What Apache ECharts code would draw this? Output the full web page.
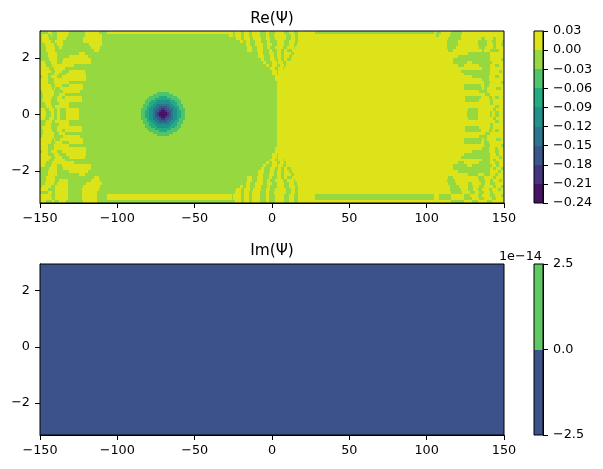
<!DOCTYPE html>
<html>
<head>
<meta charset="UTF-8">
<script src="https://cdn.jsdelivr.net/npm/echarts@6/dist/echarts.min.js"></script>
<style>
  html, body { margin: 0; height: 100%; background: #fff; }
  #paint { width: 603px; height: 469px; }
</style>
</head>
<body>
<div id="paint"></div>
<script>
// contour levels and fill colours of both panels
var reLevels = [-0.24, -0.21, -0.18, -0.15, -0.12, -0.09, -0.06, -0.03, 0, 0.03];
var reColors = ['#471365', '#453581', '#38588c', '#2a768e', '#21918c', '#25ab82', '#4fc46a', '#95d840', '#dce319'];
var imLevels = [-2.5, 0, 2.5];
var imColors = ['#3b528b', '#5ec962'];

var xTicks = [-150, -100, -50, 0, 50, 100, 150];
var yTicks = [-2, 0, 2];
var yRange = [-3.14, 2.95];

// Re(Psi): x intervals of each row (top to bottom) that fall in the 0.00..0.03 band,
// everything else is the -0.03..0.00 band
var reUpperSpans = [
  [-145,-142, -139,-131, -121,-112, -107,-25, -24,-20, -18,-15, -13,-8, -4,-2, 2,8, 11,14, 17,28, 105,106, 109,116, 123,150],
  [-149,-145, -143,-142, -139,-132, -121,-110, -28,-25, -24,-20, -18,-15, -13,-8, -4,-2, 1,9, 12,15, 17,106, 108,115, 122,150],
  [-149,-144, -139,-133, -122,-110, -23,-20, -18,-14, -12,-7, -4,-1, 2,9, 12,15, 17,114, 122,135, 138,143, 145,150],
  [-149,-143, -140,-135, -122,-110, -21,-19, -17,-14, -11,-7, -3,-1, 3,8, 11,15, 17,113, 120,133, 139,142, 145,149],
  [-147,-141, -139,-135, -118,-110, -17,-14, -11,-6, -3,0, 3,8, 11,14, 16,113, 120,133, 139,143, 145,148],
  [-146,-140, -138,-136, -117,-111, -16,-13, -10,-6, -3,-1, 2,7, 10,14, 15,113, 119,134, 138,143, 145,150],
  [-146,-140, -115,-112, -16,-13, -10,-6, -2,0, 3,6, 8,10, 13,114, 117,136, 137,141, 147,150],
  [-145,-139, -125,-121, -9,-6, -2,1, 3,6, 8,12, 14,127, 141,150],
  [-145,-139, -131,-119, -9,-5, -1,1, 3,6, 8,11, 13,120, 141,150],
  [-144,-139, -135,-117, -7,-5, -1,2, 4,6, 8,10, 12,117, 141,148],
  [-150,-147, -143,-139, -136,-117, -6,-4, 0,3, 4,7, 9,117, 126,129, 142,150],
  [-150,-146, -142,-128, -4,-2, 0,3, 5,8, 9,120, 124,134, 141,144, 147,150],
  [-150,-144, -141,-134, -1,2, 4,7, 8,136, 141,150],
  [-150,-143, -140,-136, -131,-121, 0,3, 4,122, 141,147, 149,150],
  [-150,-145, -141,-138, -133,-120, 0,3, 4,124, 141,150],
  [-149,-145, -143,-139, -136,-120, 2,129, 140,144, 147,150],
  [-150,-145, -141,-120, 2,136, 140,150],
  [-150,-145, -141,-131, 3,137, 141,148],
  [-150,-143, -140,-136, -131,-122, 3,124, 135,137, 140,150],
  [-150,-142, -141,-140, -137,-122, 3,124, 136,137, 139,145, 148,150],
  [-149,-141, -135,-124, 3,134, 139,150],
  [-148,-141, -138,-134, 3,138, 141,150],
  [-148,-142, -139,-136, -134,-123, 3,125, 135,140, 142,144, 147,150],
  [-149,-143, -139,-123, 3,125, 134,141, 143,150],
  [-147,-143, -138,-131, 3,141, 143,150],
  [-146,-142, -140,-131, 3,144, 147,150],
  [-150,-147, -144,-141, -139,-137, -133,-125, 3,127, 133,143, 145,150],
  [-150,-146, -143,-141, -139,-137, -133,-125, 3,126, 133,141, 142,144, 147,150]
];
var reLowerSpans = [
  [-150,-146, -143,-141, -139,-137, -133,-125, 3,126, 133,141, 142,144, 147,150],
  [-150,-147, -144,-141, -139,-137, -133,-125, 3,127, 133,143, 145,150],
  [-146,-142, -140,-131, 3,144, 147,150],
  [-147,-143, -138,-131, 3,141, 143,150],
  [-149,-143, -139,-123, 3,125, 134,141, 143,150],
  [-148,-142, -139,-136, -134,-123, 3,125, 135,140, 142,144, 147,150],
  [-148,-141, -138,-134, 3,138, 141,150],
  [-149,-141, -135,-124, 3,134, 139,150],
  [-150,-142, -141,-140, -137,-122, 3,124, 136,137, 139,145, 148,150],
  [-150,-143, -140,-136, -131,-122, 3,124, 135,137, 140,150],
  [-150,-145, -141,-131, 3,137, 141,148],
  [-150,-145, -141,-120, 2,136, 140,144, 146,150],
  [-149,-145, -143,-139, -136,-120, 2,129, 140,144, 147,150],
  [-150,-145, -141,-138, -133,-120, 0,3, 4,124, 141,145, 147,150],
  [-150,-143, -140,-136, -131,-121, 0,3, 4,122, 141,147, 149,150],
  [-150,-144, -141,-134, -1,2, 4,7, 8,136, 141,143, 145,150],
  [-150,-146, -142,-128, -4,-2, 0,3, 5,8, 9,120, 124,134, 141,144, 147,150],
  [-150,-147, -143,-139, -136,-117, -6,-4, 0,3, 4,7, 9,117, 126,129, 142,145, 147,150],
  [-144,-139, -135,-117, -7,-5, -1,2, 4,6, 8,10, 12,117, 141,143, 145,148],
  [-145,-139, -131,-119, -9,-5, -1,1, 3,6, 8,11, 13,120, 141,146, 148,150],
  [-145,-139, -125,-121, -9,-6, -2,1, 3,6, 8,12, 14,127, 133,137, 141,144, 146,150],
  [-146,-140, -115,-112, -16,-13, -10,-6, -2,0, 3,6, 8,10, 13,114, 117,133, 137,143, 145,150],
  [-146,-140, -138,-132, -117,-111, -16,-13, -10,-6, -3,-1, 2,7, 10,14, 15,113, 118,134, 138,141, 143,147, 149,150],
  [-147,-141, -139,-132, -120,-110, -17,-14, -11,-6, -3,0, 3,8, 11,14, 16,114, 119,127, 129,135, 138,141, 144,150],
  [-149,-143, -140,-132, -122,-111, -21,-19, -17,-14, -11,-7, -3,-1, 3,8, 11,15, 17,115, 121,127, 130,134, 137,143, 145,148],
  [-150,-145, -140,-132, -123,-112, -23,-20, -18,-14, -12,-7, -4,-1, 2,9, 12,15, 17,115, 122,127, 130,133, 136,140, 142,146, 148,150],
  [-145,-142, -140,-132, -123,-113, -24,-20, -18,-15, -13,-8, -4,-2, 1,9, 12,15, 17,116, 123,128, 131,134, 137,141, 143,150],
  [-150,-143, -140,-132, -123,-113, -107,-26, -25,-20, -18,-15, -13,-8, -4,-2, 2,8, 11,14, 17,28, 105,108, 116,124, 128,133, 136,141, 144,148],
  [-150,-142, -140,-132, -123,-113, -107,-26, -25,-20, -18,-15, -13,-8, -4,-2, 2,8, 11,14, 17,28, 105,108, 116,124, 129,134, 137,142, 145,150],
  [-150,-146, -142,-141, -138,-133, -122,-113, -24,-20, -18,-15, -13,-8, -4,-2, 2,8, 11,14, 17,116, 124,129, 133,139, 142,150]
];

// band index of each cell around the dark core of Re(Psi), '.' leaves the plateau showing
var reCoreRows = [
  '........666666........',
  '......6666666666......',
  '....66666555566666....',
  '...6666555555556666...',
  '..666555444444555666..',
  '..665554444444455566..',
  '.66655443333334455666.',
  '.66554433222233445566.',
  '6665443322112233445666',
  '6655443221001223445566',
  '6655443210000123445566',
  '6655443210000123445566',
  '6655443221001223445566',
  '6665443322112233445666',
  '.66554433222233445566.',
  '.66655443333334455666.',
  '..665554444444455566..',
  '..666555444444555666..',
  '...6666555555556666...',
  '....66666555566666....',
  '......6666666666......',
  '........666666........'
];
var reCoreLeft = -84.5;
var reCoreWidth = 1.293;
var reCoreHeight = 0.071;

function buildReCells() {
  var rows = reUpperSpans.concat(reLowerSpans);
  var h = (yRange[1] - yRange[0]) / rows.length;
  var cells = [[-150, 150, yRange[0], yRange[1], 7]];
  rows.forEach(function (spans, i) {
    var top = yRange[1] - i * h;
    for (var k = 0; k < spans.length; k += 2) {
      cells.push([spans[k], spans[k + 1], top - h, top, 8]);
    }
  });
  reCoreRows.forEach(function (row, i) {
    var top = (11 - i) * reCoreHeight;
    row.split('').forEach(function (c, j) {
      if (c !== '.') {
        var left = reCoreLeft + j * reCoreWidth;
        cells.push([left, left + reCoreWidth, top - reCoreHeight, top, +c]);
      }
    });
  });
  return cells;
}

function minusSign(v) {
  return String(v).replace('-', '\u2212');
}

function cellRenderer(colors) {
  return function (params, api) {
    var p0 = api.coord([api.value(0), api.value(3)]);
    var p1 = api.coord([api.value(1), api.value(2)]);
    var x = Math.round(p0[0]), y = Math.round(p0[1]);
    return {
      type: 'rect',
      shape: { x: x, y: y, width: Math.round(p1[0]) - x, height: Math.round(p1[1]) - y },
      style: { fill: colors[api.value(4)] }
    };
  };
}

function barCells(levels) {
  return levels.slice(0, -1).map(function (v, i) {
    return [0, 1, v, levels[i + 1], i];
  });
}

var font = { fontFamily: 'DejaVu Sans', fontSize: 12.8, color: '#000' };
var line = { lineStyle: { color: '#000', width: 1 } };
var titleStyle = { fontFamily: 'DejaVu Sans', fontSize: 15.4, fontWeight: 'normal', color: '#000' };

function plotX(grid) {
  return {
    type: 'value', gridIndex: grid, min: -150, max: 150, interval: 50,
    axisLine: { show: true, onZero: false, lineStyle: line.lineStyle },
    axisTick: { show: true, length: 5, lineStyle: line.lineStyle, customValues: xTicks },
    axisLabel: Object.assign({ margin: 9, customValues: xTicks, formatter: minusSign }, font),
    splitLine: { show: false }
  };
}
function plotY(grid) {
  return {
    type: 'value', gridIndex: grid, min: yRange[0], max: yRange[1],
    axisLine: { show: true, onZero: false, lineStyle: line.lineStyle },
    axisTick: { show: true, length: 5, lineStyle: line.lineStyle, customValues: yTicks },
    axisLabel: Object.assign({ margin: 10, customValues: yTicks, formatter: minusSign }, font),
    splitLine: { show: false }
  };
}
function barX(grid) {
  return { type: 'value', gridIndex: grid, min: 0, max: 1, show: false };
}
function barY(grid, levels, digits) {
  return {
    type: 'value', gridIndex: grid, position: 'right', min: levels[0], max: levels[levels.length - 1],
    axisLine: { show: true, onZero: false, lineStyle: line.lineStyle },
    axisTick: { show: true, length: 5, lineStyle: line.lineStyle, customValues: levels },
    axisLabel: Object.assign({
      margin: 10, customValues: levels,
      formatter: function (v) { return minusSign(v.toFixed(digits)); }
    }, font),
    splitLine: { show: false }
  };
}
function cellSeries(grid, colors, data) {
  return {
    type: 'custom', xAxisIndex: grid, yAxisIndex: grid, clip: true, silent: true, z: 1,
    animation: false, renderItem: cellRenderer(colors),
    encode: { x: [0, 1], y: [2, 3] }, data: data
  };
}
function frame(left, top, width, height) {
  return { left: left, top: top, width: width, height: height, show: true, z: 3,
    borderColor: '#000', borderWidth: 1, backgroundColor: 'transparent' };
}

echarts.init(document.getElementById('paint'), null, { renderer: 'canvas' }).setOption({
  animation: false,
  backgroundColor: '#fff',
  title: [
    { text: 'Re(\u03a8)', left: 272, top: 11, padding: 0, textAlign: 'center', textStyle: titleStyle },
    { text: 'Im(\u03a8)', left: 272, top: 243, padding: 0, textAlign: 'center', textStyle: titleStyle }
  ],
  graphic: [{
    type: 'text', right: 61, top: 250,
    style: { text: '1e\u221214', fontFamily: 'DejaVu Sans', fontSize: 12.8, fill: '#000' }
  }],
  grid: [
    frame(40, 31, 464, 172),
    frame(40, 264, 464, 171),
    frame(534, 31, 9, 172),
    frame(534, 264, 9, 171)
  ],
  xAxis: [plotX(0), plotX(1), barX(2), barX(3)],
  yAxis: [plotY(0), plotY(1), barY(2, reLevels, 2), barY(3, imLevels, 1)],
  series: [
    cellSeries(0, reColors, buildReCells()),
    cellSeries(1, imColors, [[-150, 150, yRange[0], yRange[1], 0]]),
    cellSeries(2, reColors, barCells(reLevels)),
    cellSeries(3, imColors, barCells(imLevels))
  ]
});
</script>
</body>
</html>
